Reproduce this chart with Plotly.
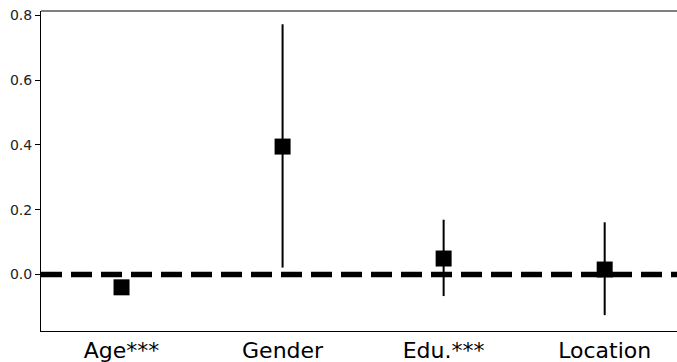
import plotly.graph_objects as go

categories = ["Age***", "Gender", "Edu.***", "Location"]
estimates = [-0.040, 0.395, 0.049, 0.015]
ci_upper = [-0.030, 0.773, 0.169, 0.161]
ci_lower = [-0.050, 0.021, -0.067, -0.126]
y_ticks = [0.0, 0.2, 0.4, 0.6, 0.8]

xpos = list(range(len(categories)))
err_plus = [u - e for u, e in zip(ci_upper, estimates)]
err_minus = [e - l for e, l in zip(estimates, ci_lower)]

fig = go.Figure()
fig.add_hline(y=0, line=dict(color="black", width=5.5, dash="21px,9px"), layer="below")
fig.add_trace(go.Scatter(
    x=xpos, y=estimates, mode="markers",
    marker=dict(symbol="square", size=16, color="black", line=dict(width=0)),
    error_y=dict(type="data", symmetric=False, array=err_plus, arrayminus=err_minus,
                 color="black", thickness=2, width=0),
    showlegend=False,
))
fig.add_shape(type="line", xref="paper", yref="paper", x0=0, x1=1, y0=1, y1=1,
              line=dict(color="black", width=1.1))

fig.update_layout(
    width=677, height=362,
    margin=dict(l=41, r=0, t=11, b=31),
    plot_bgcolor="white", paper_bgcolor="white",
    font=dict(family="DejaVu Sans", color="black"),
    xaxis=dict(range=[-0.5, 3.449], tickvals=xpos, ticktext=categories,
               showgrid=False, zeroline=False, showline=True, linecolor="black",
               linewidth=1.1, ticks="", tickfont=dict(size=22)),
    yaxis=dict(range=[-0.175, 0.814], tickvals=y_ticks,
               ticktext=[f"{v:.1f}" for v in y_ticks],
               showgrid=False, zeroline=False, showline=True, linecolor="black",
               linewidth=1.1, ticks="outside", ticklen=5, tickwidth=1.1,
               tickcolor="black", tickfont=dict(size=14, color="#222")),
)
fig.write_html("out.html", config={"displayModeBar": False},
               post_script="document.body.style.margin='0';document.body.style.overflow='hidden';")
